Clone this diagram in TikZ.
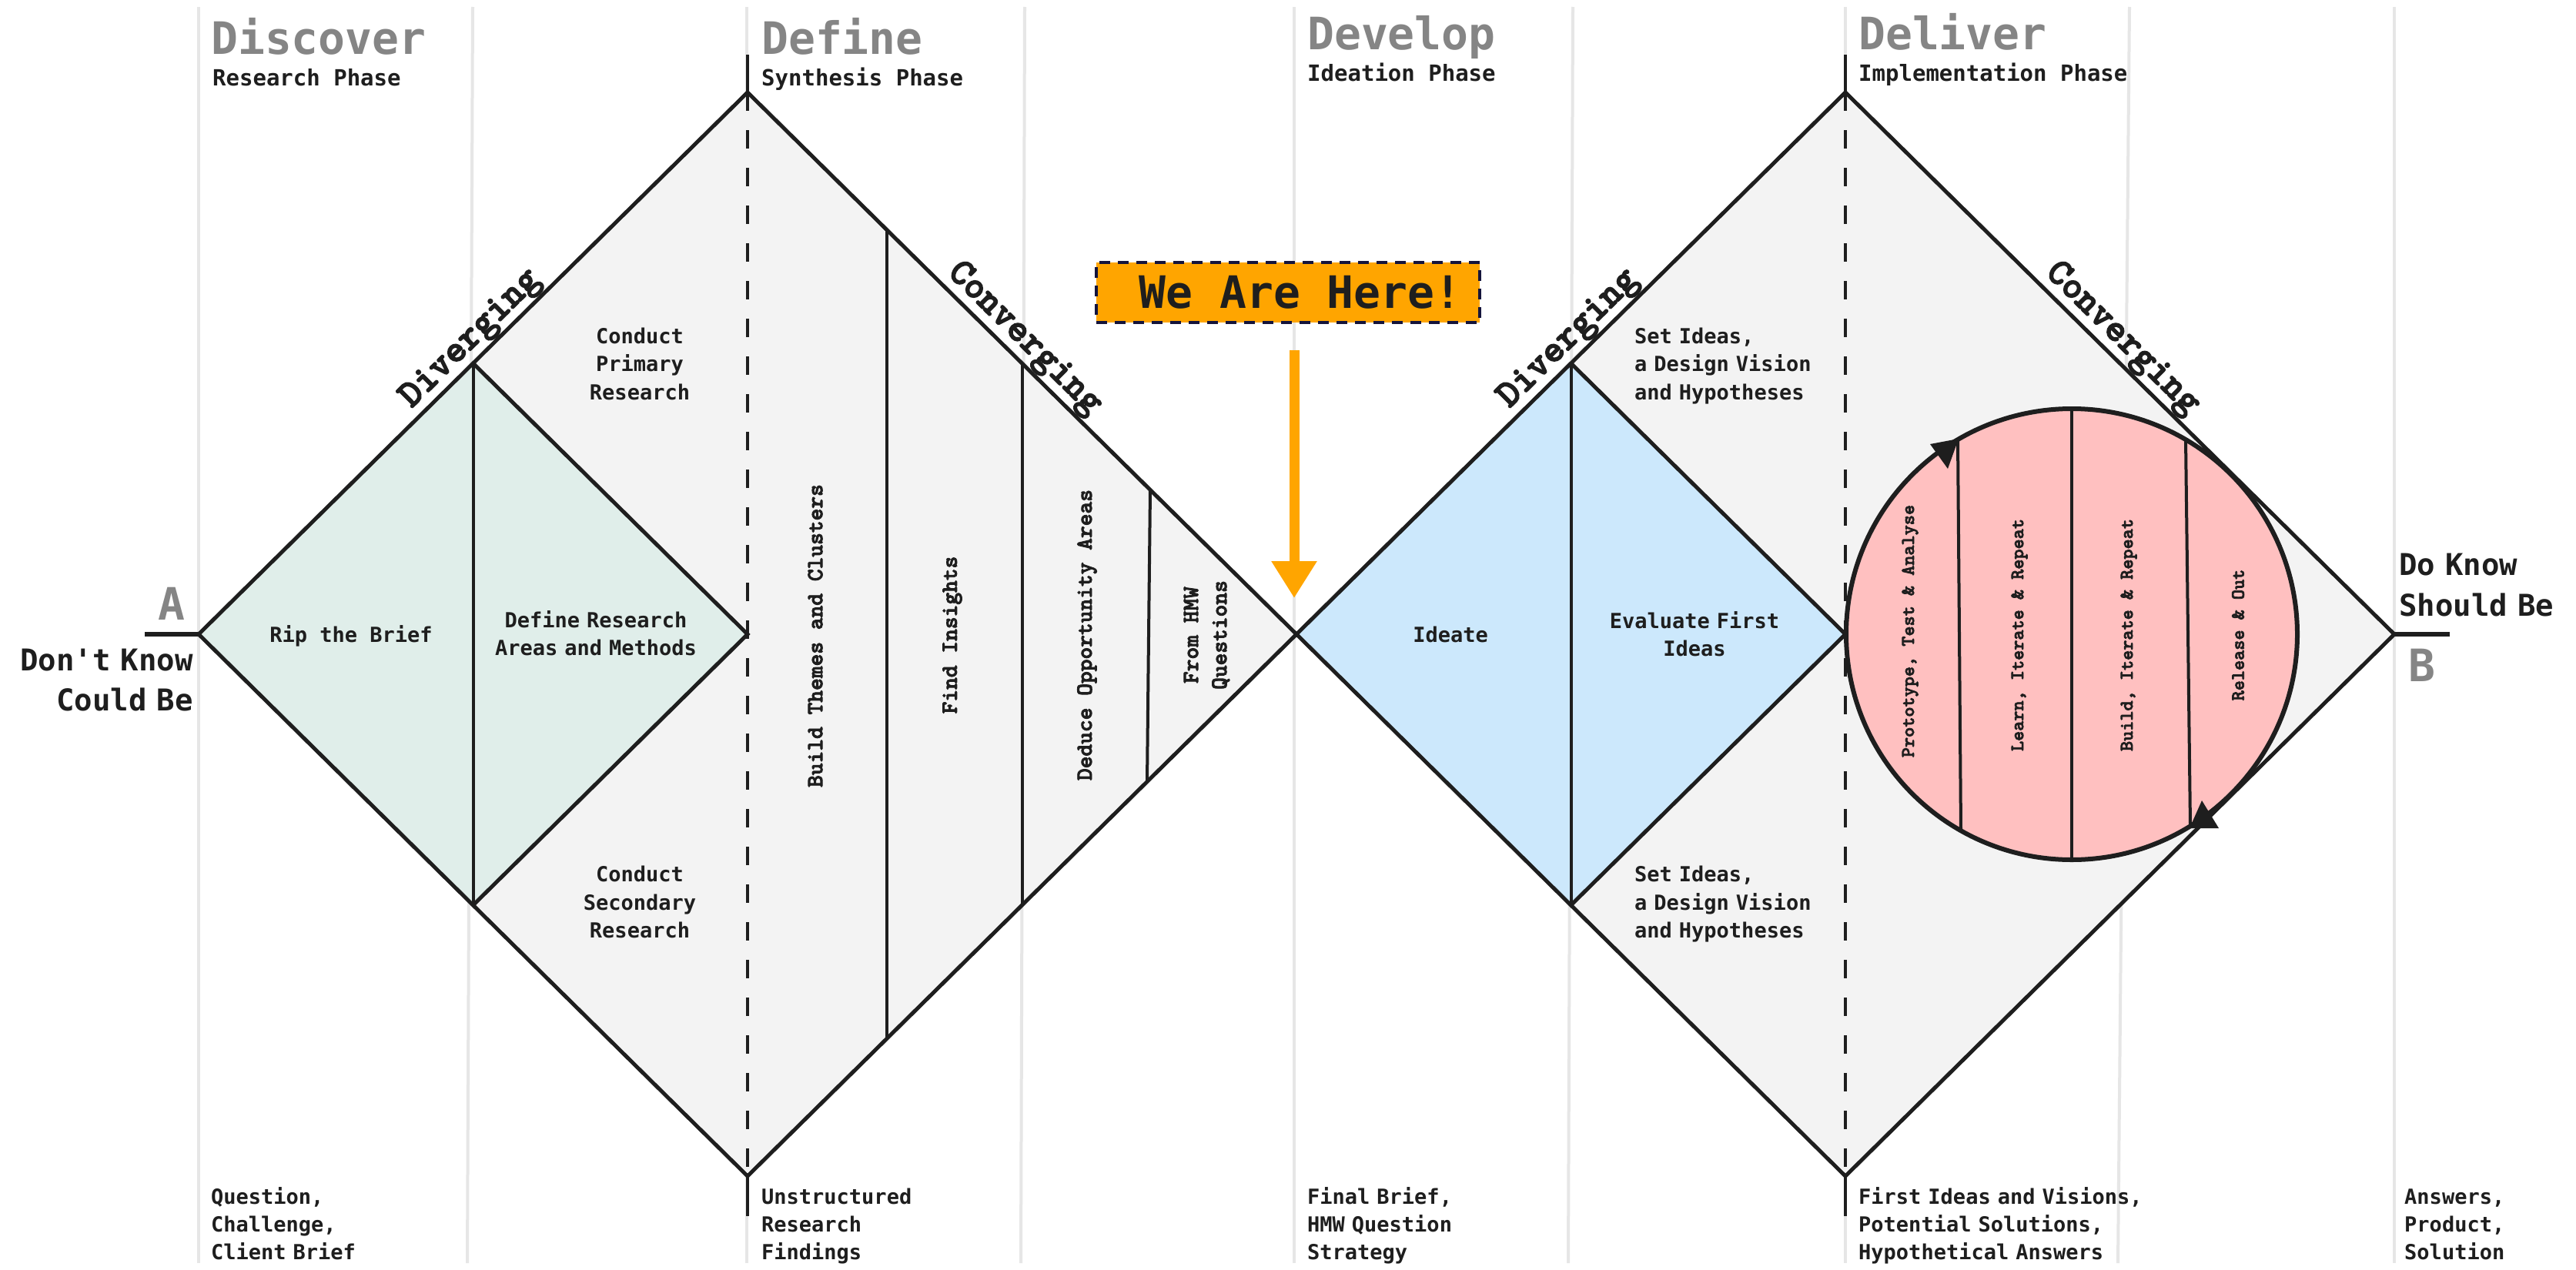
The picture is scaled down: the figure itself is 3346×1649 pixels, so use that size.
\documentclass[tikz,border=0pt]{standalone}
\usepackage{fontspec}
\newfontfamily\plex{DejaVu Sans Mono}
\newfontfamily\cour{lmmonolt10-bold.otf}[FakeBold=3]
\usetikzlibrary{arrows.meta}
\definecolor{colline}{HTML}{E6E6E6}
\definecolor{ink}{HTML}{1E1E1E}
\definecolor{paleg}{HTML}{F3F3F3}
\definecolor{mint}{HTML}{E0EEEA}
\definecolor{sky}{HTML}{CCE8FC}
\definecolor{rose}{HTML}{FFC0C0}
\definecolor{amber}{HTML}{FFA500}
\definecolor{headgray}{HTML}{858585}
\definecolor{navy}{HTML}{14143C}
\tikzset{
  colrule/.style={draw=colline, line width=4pt},
  outline/.style={draw=ink, line width=5pt, line join=miter},
  divider/.style={draw=ink, line width=4pt},
  midrule/.style={draw=ink, line width=4.5pt, dash pattern=on 24pt off 25pt},
  stem/.style={draw=ink, line width=4.5pt},
  endrule/.style={draw=ink, line width=6pt},
  bodytxt/.style={font=\plex\bfseries\fontsize{27}{36.5}\selectfont, text=ink, inner sep=0pt},
  centertxt/.style={bodytxt, anchor=base, align=center},
  lefttxt/.style={bodytxt, anchor=base west, align=left},
  outtxt/.style={font=\plex\bfseries\fontsize{27}{36}\selectfont, text=ink, inner sep=0pt, anchor=base west, align=left, text width=400pt},
  headtxt/.style={font=\plex\bfseries\fontsize{58}{60}\selectfont, text=headgray, inner sep=0pt},
  phasetxt/.style={font=\plex\bfseries\fontsize{29}{32}\selectfont, text=ink, inner sep=0pt, anchor=base west},
  endtxt/.style={font=\plex\bfseries\fontsize{39}{52.5}\selectfont, text=ink, inner sep=0pt, text width=240pt},
  vtxt/.style={font=\cour\fontsize{30}{37}\selectfont, text=ink, rotate=90, inner sep=0pt, align=center},
  ctxt/.style={font=\cour\fontsize{25}{30}\selectfont, text=ink, rotate=90, inner sep=0pt},
  slopetxt/.style={font=\cour\fontsize{50}{50}\selectfont, text=ink, sloped, above, inner sep=3pt, outer sep=0pt},
  herebox/.style={draw=navy, line width=4pt, dash pattern=on 14pt off 10pt, fill=amber, minimum width=498pt, minimum height=78pt, inner sep=0pt, font=\plex\bfseries\fontsize{58}{60}\selectfont, text=ink},
  hereptr/.style={draw=amber, line width=13pt, -{Triangle[length=48pt,width=56pt]}},
  loopmark/.style={fill=ink},
}
\begin{document}
\begin{tikzpicture}[x=1pt,y=-1pt]
\useasboundingbox (0,0) rectangle (3346,1649);
\fill[white] (0,0) rectangle (3346,1649);

% column rules
\draw[colrule] (257.5,9) -- (257.5,1641);
\draw[colrule] (614,9) -- (607,1641);
\draw[colrule] (970,9) -- (970,1641);
\draw[colrule] (1331,9) -- (1326,1641);
\draw[colrule] (1681,9) -- (1681,1641);
\draw[colrule] (2043,9) -- (2037,1641);
\draw[colrule] (2397,9) -- (2397,1641);
\draw[colrule] (2766,9) -- (2751,1641);
\draw[colrule] (3110,9) -- (3110,1641);

% key points
\coordinate (L1) at (258,824);
\coordinate (T1) at (971,120);
\coordinate (R1) at (1684,824);
\coordinate (B1) at (971,1528);
\coordinate (IT1) at (614.5,472);
\coordinate (IB1) at (614.5,1176);
\coordinate (C1) at (971,824);
\coordinate (L2) at (1684,824);
\coordinate (T2) at (2397,120);
\coordinate (R2) at (3110,824);
\coordinate (B2) at (2397,1528);
\coordinate (IT2) at (2040.5,472);
\coordinate (IB2) at (2040.5,1176);
\coordinate (C2) at (2397,824);
\coordinate (O) at (2691,824);

% fills
\fill[paleg] (L1) -- (T1) -- (R1) -- (B1) -- cycle;
\fill[paleg] (L2) -- (T2) -- (R2) -- (B2) -- cycle;
\fill[mint] (L1) -- (IT1) -- (C1) -- (IB1) -- cycle;
\fill[sky] (L2) -- (IT2) -- (C2) -- (IB2) -- cycle;

% centre rules (dashed inside, solid outside)
\draw[stem] (971,71) -- (T1);
\draw[stem] (B1) -- (971,1580);
\draw[midrule] (T1) -- (B1);
\draw[stem] (2397,71) -- (T2);
\draw[stem] (B2) -- (2397,1580);
\draw[midrule] (T2) -- (B2);

% define-phase dividers
\draw[divider] (1152,298.7) -- (1152,1349.3);
\draw[divider] (1328,472.5) -- (1328,1175.5);
\draw[divider] (1494,636.4) -- (1490,1015.5);

% inner diamonds
\draw[outline] (IT1) -- (C1) -- (IB1);
\draw[divider] (IT1) -- (IB1);
\draw[outline] (IT2) -- (C2) -- (IB2);
\draw[divider] (IT2) -- (IB2);

% outer diamonds
\draw[outline] (L1) -- (T1) -- (R1) -- (B1) -- cycle;
\draw[outline] (L2) -- (T2) -- (R2) -- (B2) -- cycle;

% iteration circle
\fill[rose] (O) circle[radius=293pt];
\draw[divider] (2543,571.1) -- (2547,1079.2);
\draw[divider] (2691,531) -- (2691,1117);
\draw[divider] (2839,571.1) -- (2845,1073.3);
\draw[draw=ink, line width=6pt] (O) circle[radius=293pt];
\fill[loopmark] (2544,570) -- (2507,577) -- (2530,609) -- cycle;
\fill[loopmark] (2860,1040) -- (2882,1076) -- (2844,1076) -- cycle;

% start and end markers
\coordinate (Aend) at (188,824);
\coordinate (Bend) at (3182,824);
\draw[endrule] (Aend) -- (L1);
\draw[endrule] (R2) -- (Bend);

% we are here
\node[herebox] (here) at (1673,380) {\hspace*{32pt}We Are Here!};
\coordinate (hstart) at (1681,455);
\coordinate (htip) at (1681,777);
\draw[hereptr] (hstart) -- (htip);

% diverging / converging labels
\path (L1) -- (T1) node[slopetxt, pos=0.52] (div1) {Diverging};
\path (T1) -- (R1) node[slopetxt, pos=0.48] (con1) {Converging};
\path (L2) -- (T2) node[slopetxt, pos=0.52] (div2) {Diverging};
\path (T2) -- (R2) node[slopetxt, pos=0.48] (con2) {Converging};

% headers
\node[headtxt, anchor=base west] (h1) at (274,70) {Discover};
\node[phasetxt] (p1) at (276,111) {Research Phase};
\node[headtxt, anchor=base west] (h2) at (989,70) {Define};
\node[phasetxt] (p2) at (989,111) {Synthesis Phase};
\node[headtxt, anchor=base west] (h3) at (1698,64) {Develop};
\node[phasetxt] (p3) at (1698,105) {Ideation Phase};
\node[headtxt, anchor=base west] (h4) at (2414,64) {Deliver};
\node[phasetxt] (p4) at (2414,105) {Implementation Phase};

% A and B
\node[headtxt, anchor=base east] (Alab) at (241,805) {A};
\node[headtxt, anchor=base west] (Blab) at (3128,885) {B};
\node[endtxt, anchor=base east, align=right] (dontknow) at (251,871) {Don't Know\\Could Be};
\node[endtxt, anchor=base west, align=left, text width=225pt, font=\plex\bfseries\fontsize{39}{53}\selectfont] (doknow) at (3116,747) {Do Know\\Should Be};

% discover / define texts
\node[centertxt, text width=160pt] (cpr) at (831,446) {Conduct\\Primary\\Research};
\node[centertxt, text width=160pt] (csr) at (831,1145.5) {Conduct\\Secondary\\Research};
\node[centertxt] (rip) at (456,834) {Rip the Brief};
\node[centertxt, text width=285pt] (dra) at (774,815) {Define Research\\Areas and Methods};
\node[vtxt] (btc) at (1059,826) {Build Themes and Clusters};
\node[vtxt] (fin) at (1237,825) {Find Insights};
\node[vtxt] (doa) at (1412,825) {Deduce Opportunity Areas};
\node[vtxt] (hmw) at (1567.5,825) {From HMW\\Questions};

% develop / deliver texts
\node[centertxt] (ideate) at (1884,834) {Ideate};
\node[centertxt, text width=235pt] (evf) at (2201,816) {Evaluate First\\Ideas};
\node[lefttxt, text width=250pt] (sia) at (2123,446) {Set Ideas,\\a Design Vision\\and Hypotheses};
\node[lefttxt, text width=250pt] (sib) at (2123,1145.5) {Set Ideas,\\a Design Vision\\and Hypotheses};
\node[ctxt] (pta) at (2481,820) {Prototype, Test \& Analyse};
\node[ctxt] (lir) at (2623,825) {Learn, Iterate \& Repeat};
\node[ctxt] (bir) at (2765,825) {Build, Iterate \& Repeat};
\node[ctxt] (rel) at (2907,825) {Release \& Out};

% outputs
\node[outtxt, text width=210pt] (o1) at (274,1564) {Question,\\Challenge,\\Client Brief};
\node[outtxt, text width=210pt] (o2) at (989,1564) {Unstructured\\Research\\Findings};
\node[outtxt, text width=210pt] (o3) at (1698,1564) {Final Brief,\\HMW Question\\Strategy};
\node[outtxt] (o4) at (2414,1564) {First Ideas and Visions,\\Potential Solutions,\\Hypothetical Answers};
\node[outtxt, text width=150pt] (o5) at (3123,1564) {Answers,\\Product,\\Solution};
\end{tikzpicture}
\end{document}
